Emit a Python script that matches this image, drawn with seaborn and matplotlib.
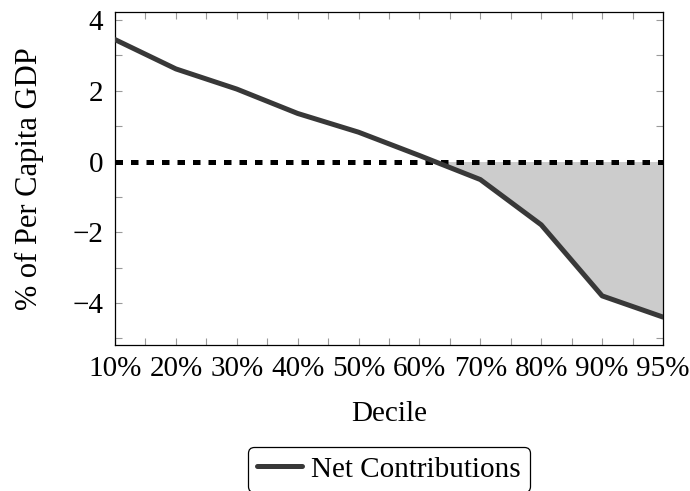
import matplotlib
matplotlib.use("Agg")
import matplotlib.pyplot as plt
from matplotlib.ticker import FixedLocator
import numpy as np
import pandas as pd
import seaborn as sns

deciles = ["10%", "20%", "30%", "40%", "50%", "60%", "70%", "80%", "90%", "95%"]
net_contributions = [3.45, 2.62, 2.05, 1.36, 0.83, 0.17, -0.51, -1.79, -3.8, -4.4]
y_ticks = [-4, -2, 0, 2, 4]

sns.set_style("ticks")
plt.rcParams["font.family"] = ["Liberation Serif", "DejaVu Serif"]
plt.rcParams["text.color"] = "black"
plt.rcParams["axes.labelcolor"] = "black"
plt.rcParams["xtick.labelcolor"] = "black"
plt.rcParams["ytick.labelcolor"] = "black"

FS = 21

df = pd.DataFrame({"pos": np.arange(len(deciles)), "value": net_contributions})

fig = plt.figure(figsize=(6.9, 4.91), dpi=100)
ax = fig.add_axes([115 / 690, 1 - 345 / 491, (663 - 115) / 690, (345 - 12) / 491])

# shaded area where contributions are negative
ax.fill_between(df["pos"], df["value"], 0, where=df["value"] < 0,
                interpolate=True, color="#cccccc", linewidth=0, zorder=1)
ax.axhline(0, color="black", linewidth=3.6, linestyle=(0, (1.5, 1.6)), zorder=2)
sns.lineplot(data=df, x="pos", y="value", ax=ax, color="#383838",
             linewidth=3.6, label="Net Contributions", zorder=3)

ax.set_xlim(0, len(deciles) - 1)
ax.set_ylim(-5.19, 4.23)
ax.set_xticks(df["pos"])
ax.set_xticklabels(deciles)
ax.xaxis.set_minor_locator(FixedLocator(df["pos"].values[:-1] + 0.5))
ax.set_yticks(y_ticks)
ax.set_yticklabels([f"{t}" if t >= 0 else f"\u2212{abs(t)}" for t in y_ticks])
ax.yaxis.set_minor_locator(FixedLocator([-5, -3, -1, 1, 3]))

ax.tick_params(axis="both", which="both", direction="in", top=True, right=True,
               color="#9a9a9a", width=0.8, labelsize=FS)
ax.tick_params(axis="both", which="both", length=5)
ax.tick_params(axis="x", which="major", pad=8)
ax.tick_params(axis="y", which="major", pad=8.6)
for s in ax.spines.values():
    s.set_color("black")
    s.set_linewidth(0.9)

ax.set_xlabel("Decile", fontsize=FS)
ax.xaxis.set_label_coords(0.5, -0.168)
ax.set_ylabel("% of Per Capita GDP", fontsize=22)
ax.yaxis.set_label_coords(-0.13, 0.5)

leg = ax.legend(loc="upper center", bbox_to_anchor=(0.5, -0.306), fontsize=FS,
                frameon=True, fancybox=True, edgecolor="black", handlelength=1.55,
                handletextpad=0.31, borderpad=0.32, borderaxespad=0,
                framealpha=1)
leg.get_frame().set_linewidth(0.9)

fig.savefig("out.png", dpi=100)
